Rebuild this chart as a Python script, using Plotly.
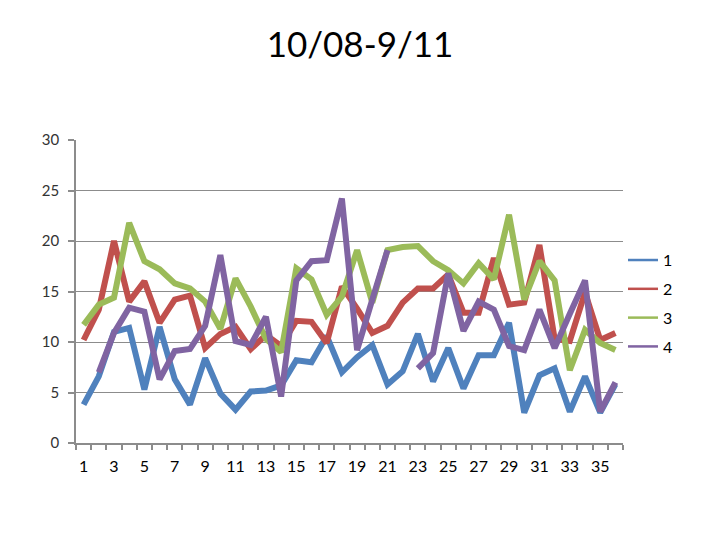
import plotly.graph_objects as go

# category numbers 1..36 on the x axis
days = list(range(1, 37))
tick_vals = list(range(1, 37, 2))
tick_text = [str(v) for v in tick_vals]

series_1 = [3.8, 6.6, 11.0, 11.4, 5.3, 11.5, 6.3, 3.8, 8.4, 4.9, 3.3, 5.1,
            5.2, 5.7, 8.2, 8.0, 10.6, 7.0, 8.5, 9.7, 5.8, 7.1, 10.8, 6.1,
            9.4, 5.4, 8.7, 8.7, 11.9, 3.0, 6.7, 7.4, 3.1, 6.6, 3.0, 5.8]
series_2 = [10.2, 13.2, 20.0, 14.0, 16.0, 11.9, 14.2, 14.6, 9.4, 10.8, 11.5, 9.3,
            10.7, 9.6, 12.1, 12.0, 9.9, 15.5, 13.3, 10.9, 11.6, 13.9, 15.3, 15.3,
            16.7, 12.9, 12.9, 18.3, 13.7, 13.9, 19.6, 10.3, 10.1, 14.9, 10.2, 10.9]
series_3 = [11.7, 13.7, 14.4, 21.8, 18.0, 17.2, 15.8, 15.3, 14.0, 11.3, 16.3, 13.5,
            10.3, 9.0, 17.3, 16.2, 12.7, 14.5, 19.1, 13.9, 19.1, 19.4, 19.5, 18.0,
            17.1, 15.8, 17.8, 16.2, 22.6, 14.2, 18.0, 16.1, 7.2, 11.2, 9.9, 9.2]
series_4 = [None, 7.0, 10.9, 13.4, 13.0, 6.3, 9.1, 9.3, 11.6, 18.6, 10.1, 9.7,
            12.5, 4.6, 16.1, 18.0, 18.1, 24.2, 9.2, 14.2, 19.1, None, 7.4, 8.9,
            16.8, 11.1, 14.0, 13.2, 9.6, 9.2, 13.2, 9.4, 12.8, 16.1, 3.1, 6.0]

names = ["1", "2", "3", "4"]
colors = ["#4F81BD", "#C0504D", "#9BBB59", "#8064A2"]
grid_gray = "#8C8C8C"
font_family = "Lato, Open Sans, sans-serif"

fig = go.Figure()

for name, vals, color in zip(names, [series_1, series_2, series_3, series_4], colors):
    fig.add_trace(go.Scatter(
        x=days, y=vals, mode="lines", name=name,
        line=dict(color=color, width=6),
        connectgaps=False, showlegend=False,
    ))

# thin legend keys, like the spreadsheet legend
for name, color in zip(names, colors):
    fig.add_trace(go.Scatter(
        x=[None], y=[None], mode="lines", name=name,
        line=dict(color=color, width=2.5),
        legendgroup=name, showlegend=True,
    ))

# the page body adds an 8px offset, margins below account for it
fig.update_layout(
    width=720, height=540,
    paper_bgcolor="white", plot_bgcolor="white",
    margin=dict(l=68, r=105, t=132, b=105),
    font=dict(family=font_family, color="#000000"),
    title=dict(
        text="10/08-9/11", x=352 / 720, xref="container", xanchor="center",
        y=1 - 36.5 / 540, yref="container", yanchor="middle",
        font=dict(size=35, color="#000000"),
    ),
    legend=dict(
        x=1.0, xanchor="left", y=0.46, yanchor="middle",
        font=dict(size=16, color="#000000"),
        tracegroupgap=5, traceorder="grouped",
        bgcolor="rgba(0,0,0,0)",
    ),
)

fig.update_xaxes(
    range=[0.5, 36.5],
    tickvals=tick_vals, ticktext=tick_text,
    ticks="", showgrid=False, zeroline=False,
    showline=True, linecolor=grid_gray, linewidth=1.5,
    ticklabelstandoff=8,
    tickfont=dict(size=16, color="#000000"),
    minor=dict(tick0=0.5, dtick=1, ticks="outside", ticklen=5,
               tickcolor=grid_gray, tickwidth=1.5, showgrid=False),
)

fig.update_yaxes(
    range=[0, 30], dtick=5,
    showgrid=True, gridcolor=grid_gray, gridwidth=1.3,
    zeroline=False,
    showline=True, linecolor=grid_gray, linewidth=1.5,
    ticks="outside", ticklen=6, tickcolor=grid_gray, tickwidth=1.5,
    ticklabelstandoff=6,
    tickfont=dict(size=15, color="#333333"),
)

fig.write_html("out.html")
